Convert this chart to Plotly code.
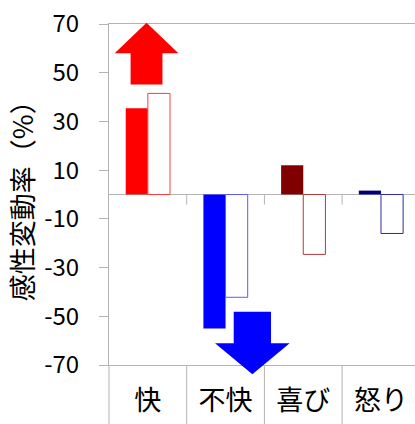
import plotly.graph_objects as go

categories = ["快", "不快", "喜び", "怒り"]
filled_values = [35.4, -55.0, 12.0, 1.6]
outline_values = [41.5, -42.2, -24.6, -16.0]
filled_colors = ["#FF0000", "#0000FF", "#800000", "#000080"]
outline_colors = ["#FF3C3C", "#5A5AFF", "#B03A3A", "#2E2EA0"]
ytick_vals = [70, 50, 30, 10, -10, -30, -50, -70]
ytick_text = ["70", "50", "30", "10", "-10", "-30", "-50", "-70"]

FONT = "Noto Sans CJK JP"
GRAY = "#B4B4B4"
YMIN, YMAX = -70, 70
XMIN, XMAX = -0.5, 3.438

W, H = 415, 424
ML, MR, MT, MB = 109, 0, 24, 59
plot_h = H - MT - MB

def xp(x):
    return (x - XMIN) / (XMAX - XMIN)

def yp(y):
    return (y - YMIN) / (YMAX - YMIN)

fig = go.Figure()
fig.add_trace(go.Bar(
    x=categories, y=filled_values,
    marker=dict(color=filled_colors, line=dict(width=0)),
    showlegend=False,
))
fig.add_trace(go.Bar(
    x=categories, y=outline_values,
    marker=dict(color="white", line=dict(color=outline_colors, width=1)),
    showlegend=False,
))

shapes = []

def arrow(cx, y_tail, y_neck, y_tip, shaft_hw, head_hw, color):
    pts = [
        (cx - shaft_hw, y_tail), (cx + shaft_hw, y_tail),
        (cx + shaft_hw, y_neck), (cx + head_hw, y_neck),
        (cx, y_tip), (cx - head_hw, y_neck), (cx - shaft_hw, y_neck),
    ]
    path = "M " + " L ".join(f"{xp(x):.5f},{yp(y):.5f}" for x, y in pts) + " Z"
    return dict(type="path", xref="paper", yref="paper", path=path,
                fillcolor=color, line=dict(width=0), layer="above")

shapes.append(arrow(-0.017, 45.2, 58.0, 70.5, 0.205, 0.41, "#FF0000"))
shapes.append(arrow(1.345, -48.1, -61.1, -73.8, 0.24, 0.48, "#0000FF"))

# category divider lines below the bottom axis
for b in [-0.5, 0.5, 1.5, 2.5]:
    shapes.append(dict(type="line", xref="paper", yref="paper",
                       x0=xp(b), x1=xp(b), y0=0, y1=-MB / plot_h,
                       line=dict(color=GRAY, width=1), layer="below"))
# small divider ticks under the zero line
for b in [0.5, 1.5, 2.5]:
    shapes.append(dict(type="line", xref="paper", yref="paper",
                       x0=xp(b), x1=xp(b), y0=yp(0), y1=yp(0) - 10 / plot_h,
                       line=dict(color=GRAY, width=1), layer="below"))

fig.update_layout(
    width=W, height=H,
    margin=dict(l=ML, r=MR, t=MT, b=MB, pad=0),
    paper_bgcolor="white", plot_bgcolor="white",
    barmode="group", bargap=0.43, bargroupgap=0,
    font=dict(family=FONT, color="black"),
    shapes=shapes,
    xaxis=dict(
        range=[XMIN, XMAX], showgrid=False, zeroline=False,
        showline=True, linecolor=GRAY, linewidth=1, mirror=True,
        ticks="", tickfont=dict(size=27, family=FONT, color="black"),
        ticklabelstandoff=12,
    ),
    yaxis=dict(
        range=[YMIN, YMAX], showgrid=False,
        zeroline=True, zerolinecolor=GRAY, zerolinewidth=1,
        showline=True, linecolor=GRAY, linewidth=1,
        tickvals=ytick_vals, ticktext=ytick_text,
        ticks="outside", ticklen=9, tickcolor=GRAY, tickwidth=1,
        tickfont=dict(size=24, family=FONT, color="black"),
        ticklabelstandoff=15,
    ),
    annotations=[dict(
        text="感性変動率（%）", xref="paper", yref="paper",
        x=(21.7 - ML) / (W - ML - MR), y=0.5, xanchor="center", yanchor="middle",
        textangle=-90, showarrow=False,
        font=dict(size=27, family=FONT, color="black"),
    )],
)

fig.write_html("out.html")
